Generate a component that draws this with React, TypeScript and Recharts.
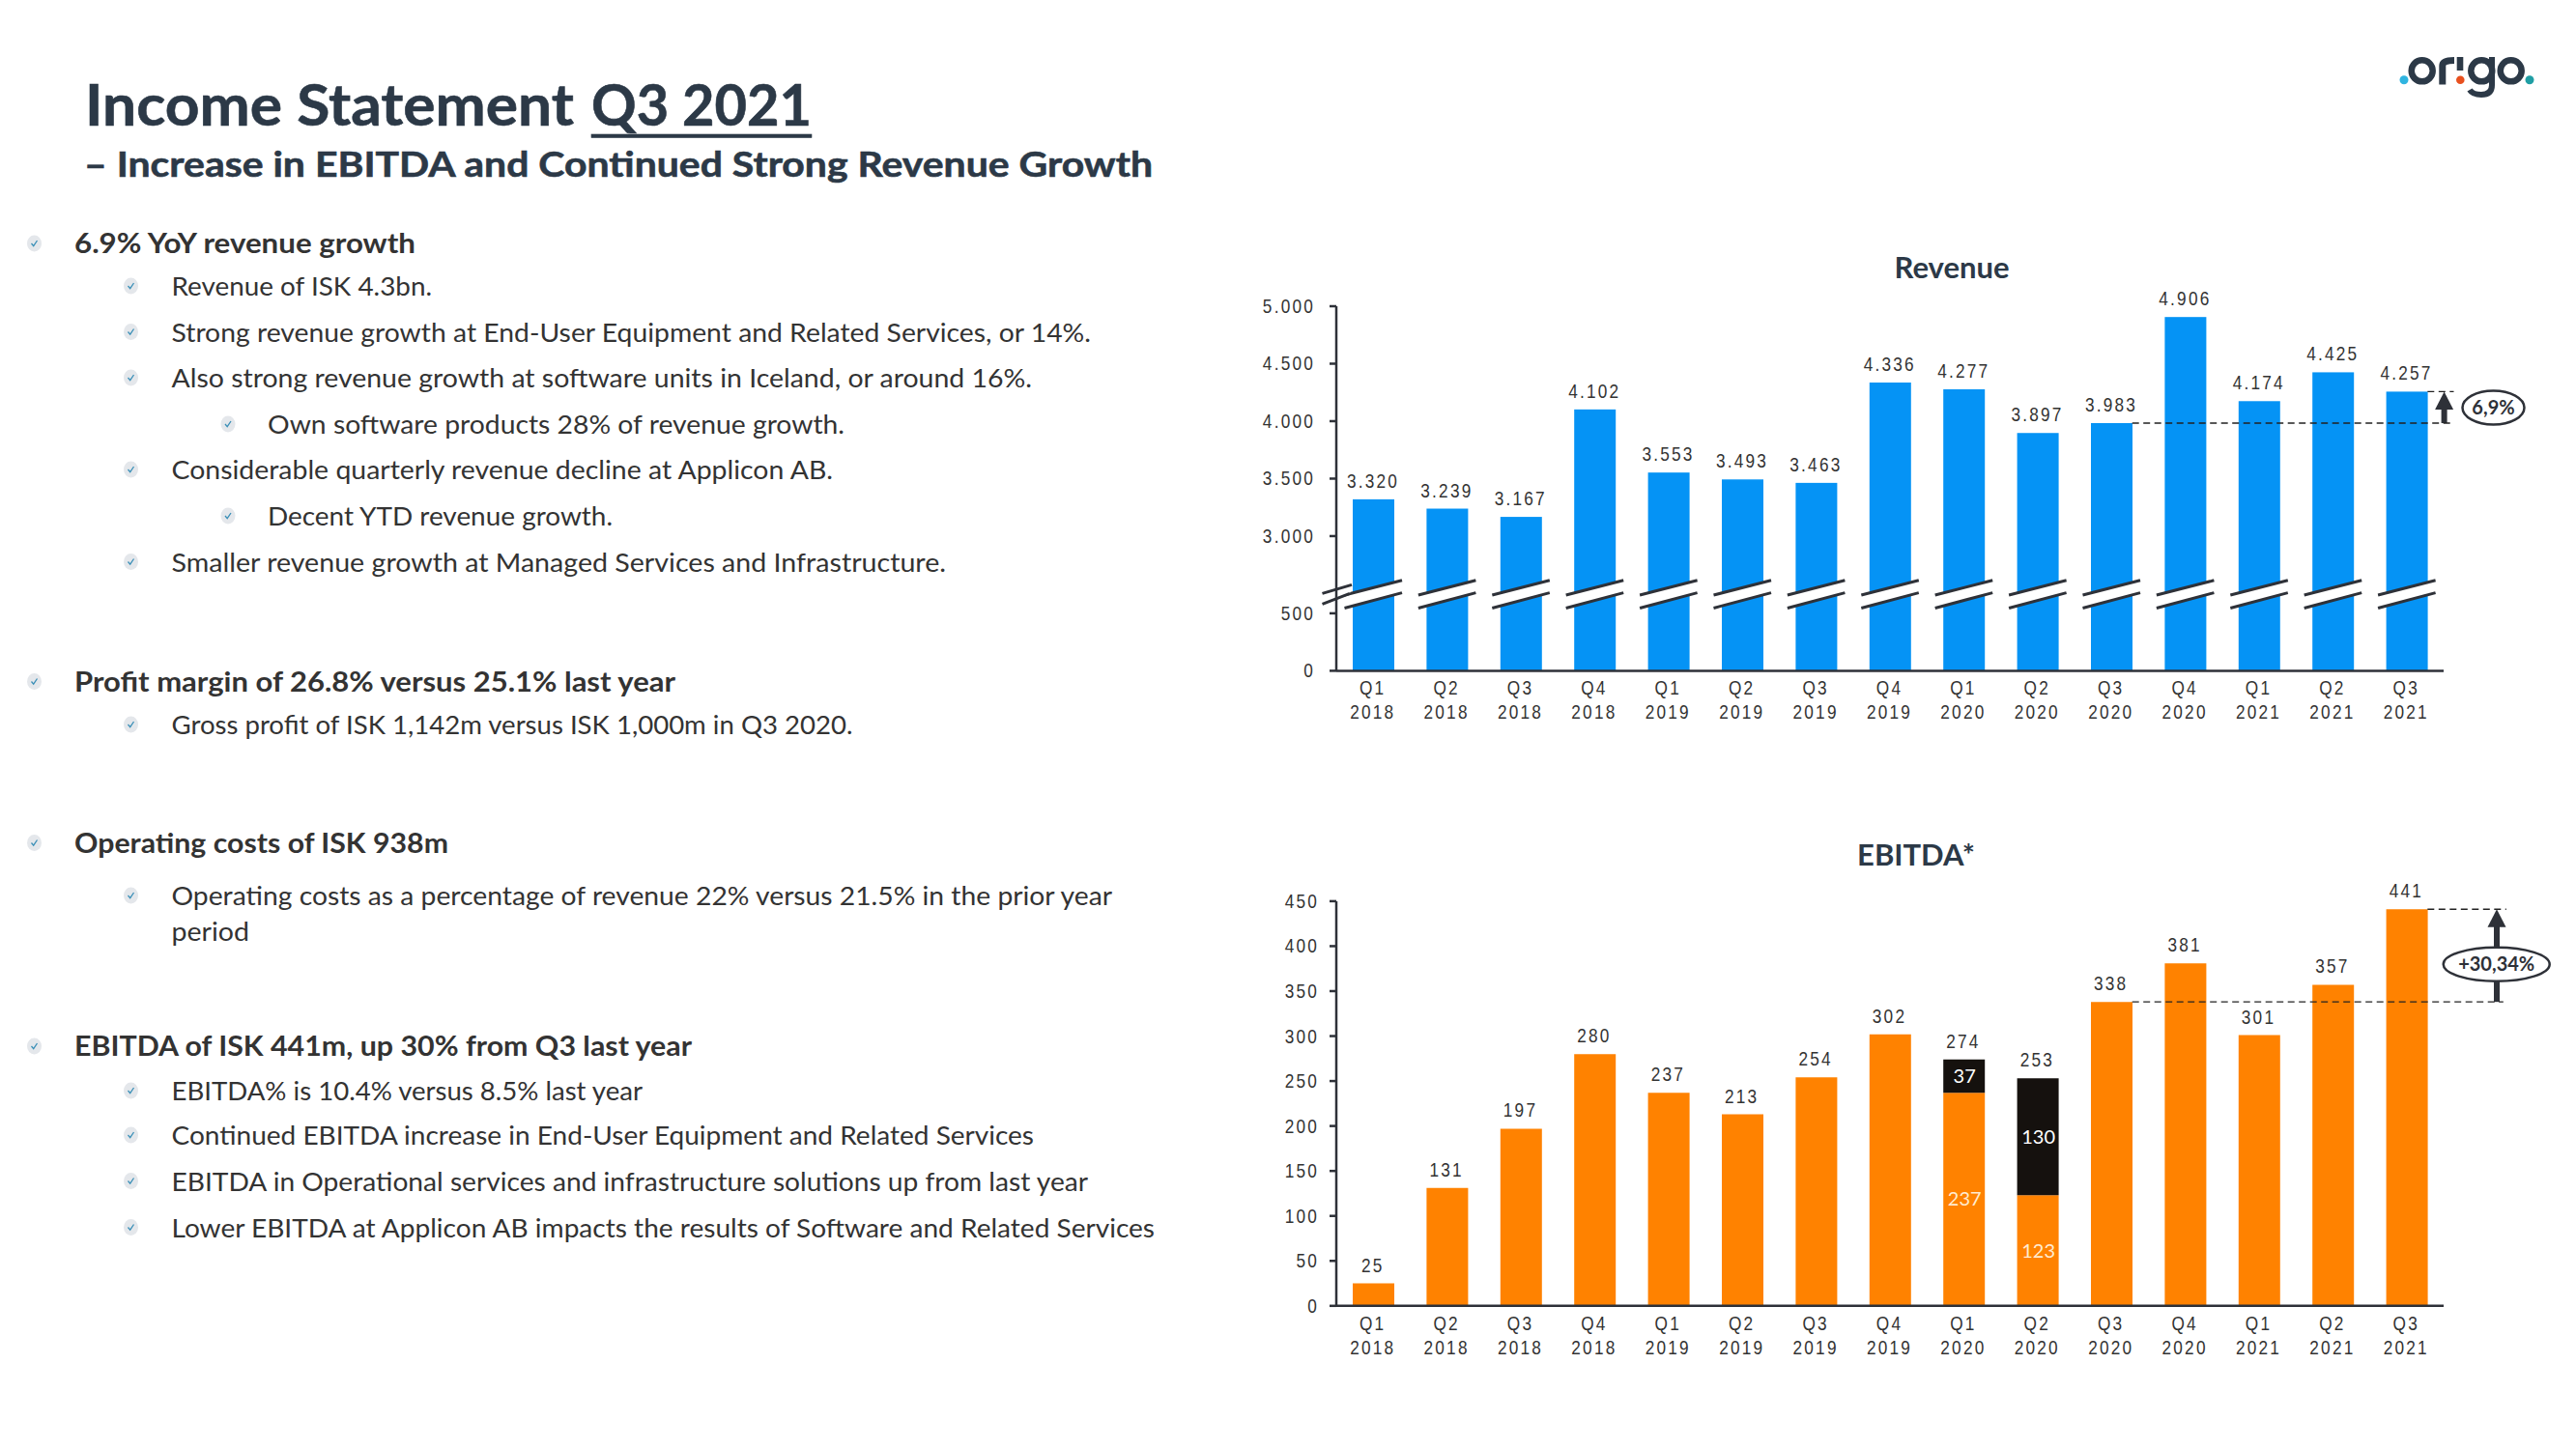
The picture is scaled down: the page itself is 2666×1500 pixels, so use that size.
import React from 'react';
import { ComposedChart, BarChart, Bar, Line, XAxis, YAxis, LabelList, ReferenceLine, ReferenceArea } from 'recharts';

// chart values
const quarters = ['Q1 2018', 'Q2 2018', 'Q3 2018', 'Q4 2018', 'Q1 2019', 'Q2 2019', 'Q3 2019', 'Q4 2019', 'Q1 2020', 'Q2 2020', 'Q3 2020', 'Q4 2020', 'Q1 2021', 'Q2 2021', 'Q3 2021'];
const revenueValues = [3320, 3239, 3167, 4102, 3553, 3493, 3463, 4336, 4277, 3897, 3983, 4906, 4174, 4425, 4257];
const revenueTicks = [0, 500, 3000, 3500, 4000, 4500, 5000];
const ebitdaTotals = [25, 131, 197, 280, 237, 213, 254, 302, 274, 253, 338, 381, 301, 357, 441];
const ebitdaBase = [25, 131, 197, 280, 237, 213, 254, 302, 237, 123, 338, 381, 301, 357, 441];
const ebitdaExtra = [0, 0, 0, 0, 0, 0, 0, 0, 37, 130, 0, 0, 0, 0, 0];
const ebitdaTicks = [0, 50, 100, 150, 200, 250, 300, 350, 400, 450];

// the revenue axis is cut between 500 and 3000
const CUT = 1828;
const toAxis = (v: number) => (v >= 3000 ? v - CUT : v);
const fromAxis = (v: number) => (v > 500 ? v + CUT : v);
const withDot = (v: number) => (v >= 1000 ? `${Math.floor(v / 1000)}.${String(v % 1000).padStart(3, '0')}` : `${v}`);

const revenueData = quarters.map((q, i) => ({ q, plotted: toAxis(revenueValues[i]), revenue: revenueValues[i] }));
const ebitdaData = quarters.map((q, i) => ({
  q,
  base: ebitdaBase[i],
  extra: ebitdaExtra[i],
  total: ebitdaTotals[i],
  baseInner: ebitdaExtra[i] > 0 ? ebitdaBase[i] : null,
  extraInner: ebitdaExtra[i] > 0 ? ebitdaExtra[i] : null,
}));

// slide text
const bulletTexts = [
  '6.9% YoY revenue growth',
  'Revenue of ISK 4.3bn.',
  'Strong revenue growth at End-User Equipment and Related Services, or 14%.',
  'Also strong revenue growth at software units in Iceland, or around 16%.',
  'Own software products 28% of revenue growth.',
  'Considerable quarterly revenue decline at Applicon AB.',
  'Decent YTD revenue growth.',
  'Smaller revenue growth at Managed Services and Infrastructure.',
  'Profit margin of 26.8% versus 25.1% last year',
  'Gross profit of ISK 1,142m versus ISK 1,000m in Q3 2020.',
  'Operating costs of ISK 938m',
  'Operating costs as a percentage of revenue 22% versus 21.5% in the prior year',
  'period',
  'EBITDA of ISK 441m, up 30% from Q3 last year',
  'EBITDA% is 10.4% versus 8.5% last year',
  'Continued EBITDA increase in End-User Equipment and Related Services',
  'EBITDA in Operational services and infrastructure solutions up from last year',
  'Lower EBITDA at Applicon AB impacts the results of Software and Related Services',
];
// level, baseline, right edge, has bullet
const bulletLayout: [number, number, number, boolean][] = [
  [1, 262, 430, true], [2, 306, 447, true], [2, 353.5, 1129, true], [2, 401, 1068, true],
  [3, 449, 874, true], [2, 496, 862, true], [3, 544, 634, true], [2, 591.5, 979, true],
  [1, 715.5, 699, true], [2, 760, 882.5, true], [1, 882.5, 464, true], [2, 937, 1151, true],
  [2, 974, 258, false], [1, 1093, 716, true], [2, 1139, 665, true], [2, 1185, 1070, true],
  [2, 1232.5, 1126, true], [2, 1280.5, 1195, true],
];
const textLeft: Record<number, number> = { 1: 77, 2: 177.5, 3: 277 };
const bulletLeft: Record<number, number> = { 1: 35.5, 2: 135.5, 3: 236 };

const INK = '#2E3138';
const TEXT = '#333333';
const NAVY = '#2C3947';
const BODY_FONT = 'Lato, sans-serif';

// the numbers in the reference are a narrow Arial with wide tracking
const Num = ({ x, y, anchor = 'middle', children }: any) => (
  <text
    transform={`translate(${x} ${y}) scale(0.82 1)`}
    textAnchor={anchor}
    fontFamily='"Liberation Sans", Arial, sans-serif'
    fontSize={21}
    letterSpacing={2.7}
    fill={TEXT}
  >
    {children}
  </text>
);

const XTick = ({ x, y, payload }: any) => {
  const [a, b] = String(payload.value).split(' ');
  return (
    <g>
      <Num x={x - 0.5} y={y + 17}>{a}</Num>
      <Num x={x - 0.5} y={y + 42}>{b}</Num>
    </g>
  );
};

const makeYTick = (gap: number, format: (v: number) => string) => ({ x, y, payload }: any) => (
  <Num x={x - gap} y={y + 7} anchor="end">{format(payload.value)}</Num>
);

const TopLabel = ({ x, y, width, value }: any) => (
  <Num x={x + width / 2 - 0.5} y={y - 12}>{withDot(value)}</Num>
);

const LineTopLabel = ({ x, y, value }: any) => (
  <Num x={x - 0.5} y={y - 12}>{value}</Num>
);

const makeInnerLabel = (fill: string) => ({ x, y, width, height, value }: any) =>
  value == null ? null : (
    <text x={x + width / 2 + 0.5} y={y + height / 2 + 7} textAnchor="middle" fontFamily={BODY_FONT} fontSize={20} fill={fill}>{value}</text>
  );

// blue bar with the slanted cut across it
const CutBar = ({ x, y, width, height, index }: any) => {
  const base = y + height;
  const x1 = x - 8.5;
  const x2 = x + width + 8;
  return (
    <g>
      <rect x={x} y={y} width={width} height={height} fill="#0593F5" />
      <polygon points={`${x1},${base - 78.4} ${x2},${base - 93.6} ${x2},${base - 80.8} ${x1},${base - 64.9}`} fill="#fff" />
      <line x1={x1} y1={base - 78.4} x2={x2} y2={base - 93.6} stroke={INK} strokeWidth={3} />
      <line x1={x1} y1={base - 64.9} x2={x2} y2={base - 80.8} stroke={INK} strokeWidth={3} />
      {index === 0 && (
        <g>
          <polygon points={`${x - 31.5},${base - 80} ${x - 1},${base - 89} ${x - 3},${base - 80} ${x - 31.5},${base - 69}`} fill="#fff" />
          <line x1={x - 31.5} y1={base - 80} x2={x - 1} y2={base - 89} stroke={INK} strokeWidth={3} />
          <line x1={x - 31.5} y1={base - 69} x2={x - 3} y2={base - 80} stroke={INK} strokeWidth={3} />
        </g>
      )}
    </g>
  );
};

const makeDash = (barEdge: number, reach: number) => ({ x1, y1, x2 }: any) => (
  <line x1={x1 + barEdge} y1={y1} x2={x2 + reach} y2={y1} stroke="#222" strokeWidth={1.4} strokeDasharray="7 4.5" />
);

const Arrow = ({ cx, top, bottom }: { cx: number; top: number; bottom: number }) => (
  <g fill={INK}>
    <rect x={cx - 3} y={top + 14} width={6} height={bottom - top - 14} />
    <polygon points={`${cx},${top} ${cx + 9.5},${top + 18.5} ${cx - 9.5},${top + 18.5}`} />
  </g>
);

const Growth = ({ x, y, width, height, arrowGap, ellipseGap, cy, rx, ry, label }: any) => {
  const right = x + width;
  return (
    <g>
      <Arrow cx={right + arrowGap} top={y} bottom={y + height} />
      <ellipse cx={right + ellipseGap} cy={cy} rx={rx} ry={ry} fill="#fff" stroke={INK} strokeWidth={2.5} />
      <text x={right + ellipseGap} y={cy + 7} textAnchor="middle" fontFamily={BODY_FONT} fontWeight={700} fontSize={20} fill={INK}>{label}</text>
    </g>
  );
};

const RevenueChart = () => (
  <BarChart width={1386} height={520} data={revenueData} margin={{ top: 67, right: 137, bottom: 25.6, left: 43 }} barCategoryGap={0}>
    <XAxis dataKey="q" height={50} interval={0} tickLine={false} stroke={INK} strokeWidth={2.5} tick={XTick} />
    <YAxis
      width={60}
      type="number"
      domain={[0, toAxis(5000)]}
      ticks={revenueTicks.map(toAxis)}
      interval={0}
      tickSize={7}
      stroke={INK}
      strokeWidth={2.5}
      tick={makeYTick(13, (v) => withDot(fromAxis(v)))}
    />
    <Bar dataKey="plotted" barSize={43} shape={CutBar} isAnimationActive={false}>
      <LabelList dataKey="revenue" content={TopLabel} />
    </Bar>
    <ReferenceLine
      ifOverflow="visible"
      segment={[{ x: 'Q3 2020', y: toAxis(3983) }, { x: 'Q3 2021', y: toAxis(3983) }]}
      shape={makeDash(21.5, 48.7)}
    />
    <ReferenceLine
      ifOverflow="visible"
      segment={[{ x: 'Q3 2021', y: toAxis(4257) }, { x: 'Q3 2021', y: toAxis(4257) }]}
      shape={makeDash(21.5, 48.7)}
    />
    <ReferenceArea
      ifOverflow="visible"
      y1={toAxis(3983)}
      y2={toAxis(4257)}
      shape={(p: any) => <Growth {...p} arrowGap={0.6} ellipseGap={51.5} cy={172} rx={32} ry={17.6} label="6,9%" />}
    />
  </BarChart>
);

const EbitdaChart = () => (
  <ComposedChart width={1386} height={560} data={ebitdaData} margin={{ top: 52.9, right: 137, bottom: 18.2, left: 43 }} barCategoryGap={0}>
    <XAxis dataKey="q" height={70} interval={0} tickLine={false} stroke={INK} strokeWidth={2.5} tick={XTick} />
    <YAxis
      width={60}
      type="number"
      domain={[0, 450]}
      ticks={ebitdaTicks}
      interval={0}
      tickSize={7}
      stroke={INK}
      strokeWidth={2.5}
      tick={makeYTick(9, (v) => `${v}`)}
    />
    <Bar dataKey="base" stackId="e" barSize={43} fill="#FF8200" isAnimationActive={false}>
      <LabelList dataKey="baseInner" content={makeInnerLabel('#FFEBD0')} />
    </Bar>
    <Bar dataKey="extra" stackId="e" barSize={43} fill="#15110E" isAnimationActive={false}>
      <LabelList dataKey="extraInner" content={makeInnerLabel('#FFFFFF')} />
    </Bar>
    {/* no visible line, it only carries the totals above the stacks */}
    <Line dataKey="total" stroke="none" dot={false} activeDot={false} isAnimationActive={false}>
      <LabelList dataKey="total" content={LineTopLabel} />
    </Line>
    <ReferenceLine
      ifOverflow="visible"
      segment={[{ x: 'Q3 2020', y: 338 }, { x: 'Q3 2021', y: 338 }]}
      shape={makeDash(21.5, 100)}
    />
    <ReferenceLine
      ifOverflow="visible"
      segment={[{ x: 'Q3 2021', y: 441 }, { x: 'Q3 2021', y: 441 }]}
      shape={makeDash(21.5, 103)}
    />
    <ReferenceArea
      ifOverflow="visible"
      y1={338}
      y2={441}
      shape={(p: any) => <Growth {...p} arrowGap={55} ellipseGap={54.7} cy={118.2} rx={55} ry={17.5} label="+30,34%" />}
    />
  </ComposedChart>
);

const Bullet = ({ cx, cy }: { cx: number; cy: number }) => (
  <g>
    <ellipse cx={cx} cy={cy} rx={7.5} ry={8.5} fill="#E4E7EB" />
    <path d={`M${cx - 3} ${cy} L${cx - 0.8} ${cy + 2.6} L${cx + 3} ${cy - 3}`} fill="none" stroke="#3A8FB7" strokeWidth={1.3} />
  </g>
);

const Logo = () => (
  <g>
    <circle cx={2488} cy={82.7} r={4.5} fill="#2FB4E0" />
    <circle cx={2506.7} cy={73.3} r={11} fill="none" stroke={NAVY} strokeWidth={6.5} />
    <path d="M2527.8 87.5 V68 Q2527.8 62.5 2540 62.5" fill="none" stroke={NAVY} strokeWidth={7} />
    <rect x={2542.7} y={59} width={6.6} height={14} fill={NAVY} />
    <circle cx={2546.3} cy={82.7} r={4.3} fill="#E8501E" />
    <circle cx={2568.3} cy={73.3} r={11} fill="none" stroke={NAVY} strokeWidth={6.5} />
    <path d="M2579 59 V88 Q2579 98 2568 98 Q2559 98 2556 93" fill="none" stroke={NAVY} strokeWidth={6} />
    <circle cx={2598.7} cy={73.3} r={11} fill="none" stroke={NAVY} strokeWidth={6.5} />
    <circle cx={2618} cy={82.7} r={4.5} fill="#1F9EA4" />
  </g>
);

const Overlay = () => (
  <svg width={2666} height={1500} style={{ position: 'absolute', left: 0, top: 0, pointerEvents: 'none' }}>
    <g fontFamily={BODY_FONT} fontWeight={700} fill={NAVY} stroke={NAVY} strokeWidth={0.6}>
      <text x={88} y={130} fontSize={60} textLength={506} lengthAdjust="spacingAndGlyphs">Income Statement</text>
      <text x={612} y={130} fontSize={60} textLength={228} lengthAdjust="spacingAndGlyphs">Q3 2021</text>
      <rect x={612} y={139} width={228} height={3.5} />
      <text x={87} y={183} fontSize={37} textLength={1106} lengthAdjust="spacingAndGlyphs">– Increase in EBITDA and Continued Strong Revenue Growth</text>
    </g>
    {bulletTexts.map((t, i) => {
      const [level, base, right, hasBullet] = bulletLayout[i];
      const left = textLeft[level];
      return (
        <g key={t}>
          {hasBullet && <Bullet cx={bulletLeft[level]} cy={base - 10} />}
          <text
            x={left}
            y={base}
            fontFamily={BODY_FONT}
            fontWeight={level === 1 ? 700 : 400}
            fontSize={level === 1 ? 28 : 26.5}
            fill={TEXT}
            textLength={right - left}
            lengthAdjust="spacingAndGlyphs"
          >
            {t}
          </text>
        </g>
      );
    })}
    <g fontFamily={BODY_FONT} fontWeight={700} fontSize={31} fill={NAVY} textAnchor="middle">
      <text x={2020} y={288}>Revenue</text>
      <text x={1983} y={896}>EBITDA*</text>
    </g>
    <Logo />
  </svg>
);

const App = () => (
  <div style={{ position: 'absolute', left: 0, top: 0, width: 2666, height: 1500, background: '#fff' }}>
    <div style={{ position: 'absolute', left: 1280, top: 250 }}><RevenueChart /></div>
    <div style={{ position: 'absolute', left: 1280, top: 880 }}><EbitdaChart /></div>
    <Overlay />
  </div>
);

export default App;
